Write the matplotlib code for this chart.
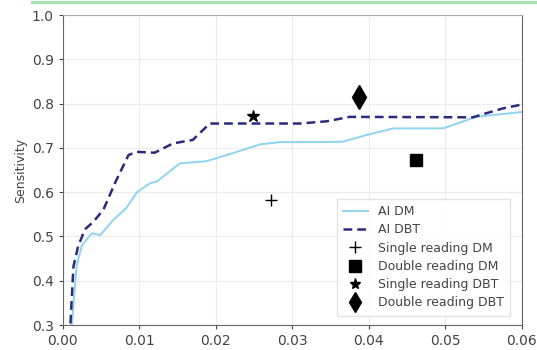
import matplotlib.pyplot as plt
from matplotlib.lines import Line2D

# AI DM curve
dm_x = [0.0, 0.0012, 0.0018, 0.0025, 0.0038, 0.0049, 0.0066, 0.0083, 0.0097,
        0.0114, 0.0123, 0.0153, 0.0188, 0.0222, 0.0258, 0.0284, 0.0336, 0.0366,
        0.0397, 0.0432, 0.0497, 0.054, 0.06]
dm_y = [0.0, 0.3, 0.432, 0.48, 0.507, 0.503, 0.537, 0.564, 0.60,
        0.62, 0.624, 0.665, 0.67, 0.688, 0.708, 0.713, 0.713, 0.714,
        0.729, 0.744, 0.744, 0.77, 0.781]

# AI DBT curve
dbt_x = [0.0, 0.001, 0.0014, 0.002, 0.0029, 0.004, 0.0053, 0.007, 0.0086, 0.0097,
         0.012, 0.0144, 0.017, 0.0192, 0.031, 0.0345, 0.0375, 0.0536, 0.0553,
         0.0575, 0.06]
dbt_y = [0.0, 0.3, 0.432, 0.477, 0.516, 0.533, 0.56, 0.627, 0.684, 0.691,
         0.689, 0.71, 0.718, 0.755, 0.755, 0.76, 0.77, 0.769, 0.778,
         0.789, 0.798]

# reader points
single_dm = (0.0272, 0.582)
double_dm = (0.0461, 0.672)
single_dbt = (0.0249, 0.772)
double_dbt = (0.0387, 0.815)

xticks = [0.0, 0.01, 0.02, 0.03, 0.04, 0.05, 0.06]
yticks = [0.3, 0.4, 0.5, 0.6, 0.7, 0.8, 0.9, 1.0]

txt = "#444444"

fig = plt.figure(figsize=(5.37, 3.5), dpi=100)
ax = fig.add_axes([0.1168, 0.0714, 0.8552, 0.8857])

ax.plot(dm_x, dm_y, color="#8fd3f2", lw=1.4, label="AI DM")
ax.plot(dbt_x, dbt_y, color="#2b2b7e", lw=1.8, ls=(0, (3.5, 2)), label="AI DBT")
ax.plot(*single_dm, ls="none", marker="+", ms=9, mew=1.0, color="black",
        label="Single reading DM")
ax.plot(*double_dm, ls="none", marker="s", ms=9, color="black",
        label="Double reading DM")
ax.plot(*single_dbt, ls="none", marker="*", ms=9, color="black",
        label="Single reading DBT")
ax.plot(*double_dbt, ls="none", marker="d", ms=12, color="black",
        label="Double reading DBT")

ax.set_xlim(0, 0.06)
ax.set_ylim(0.3, 1.0)
ax.set_xticks(xticks)
ax.set_xticklabels([f"{v:.2f}" for v in xticks])
ax.set_yticks(yticks)
ax.set_yticklabels([f"{v:.1f}" for v in yticks])
ax.grid(True, color="#ececec", lw=0.8)
ax.tick_params(labelsize=10, colors=txt, length=3)
for s in ax.spines.values():
    s.set_color("#666666")
ax.spines["top"].set_color("#aaaaaa")
ax.set_ylabel("Sensitivity", fontsize=9, color=txt, labelpad=3)

leg = ax.legend(loc="lower right", fontsize=9, frameon=True, fancybox=False,
                borderpad=0.5, labelspacing=0.42, handlelength=2.0,
                handletextpad=0.8, bbox_to_anchor=(0.988, 0.01))
leg.get_frame().set_edgecolor("#dddddd")
for t in leg.get_texts():
    t.set_color(txt)
for h, ms in zip(leg.legend_handles[2:], [8, 8, 8, 10]):
    h.set_markersize(ms)

# thin green rule along the top edge of the screenshot
fig.add_artist(Line2D([0.06, 1.0], [0.994, 0.994], transform=fig.transFigure,
                      color="#a6e3b4", lw=2.2))

fig.savefig("out.png", dpi=100)
